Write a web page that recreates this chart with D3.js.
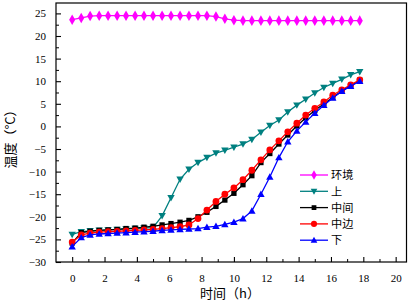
<!DOCTYPE html>
<html><head><meta charset="utf-8">
<script src="https://cdn.jsdelivr.net/npm/d3@7"></script>
<style>html,body{margin:0;padding:0;background:#fff;}svg{display:block;}</style>
</head><body>
<svg id="c" width="410" height="301"></svg>
<script>
const times = [0, 0.56, 1.11, 1.67, 2.22, 2.78, 3.33, 3.89, 4.44, 5.0, 5.56, 6.11, 6.67, 7.22, 7.78, 8.33, 8.89, 9.44, 10.0, 10.56, 11.11, 11.67, 12.22, 12.78, 13.33, 13.89, 14.44, 15.0, 15.56, 16.11, 16.67, 17.22, 17.78];
const huanjing = [23.6, 24.0, 24.4, 24.5, 24.5, 24.5, 24.5, 24.5, 24.5, 24.5, 24.5, 24.5, 24.5, 24.5, 24.5, 24.5, 24.3, 23.8, 23.5, 23.4, 23.4, 23.4, 23.4, 23.4, 23.4, 23.4, 23.4, 23.4, 23.4, 23.4, 23.4, 23.4, 23.4];
const shang = [-23.9, -23.3, -23.1, -23.0, -22.9, -22.8, -22.7, -22.6, -22.5, -22.4, -19.8, -15.8, -11.7, -9.5, -8.0, -6.9, -5.9, -5.3, -4.6, -3.9, -2.9, -1.3, 0.2, 1.4, 3.2, 4.7, 6.0, 7.4, 8.6, 9.5, 10.4, 11.4, 12.1];
const zhongjian = [-25.8, -23.5, -23.2, -23.0, -22.9, -22.8, -22.6, -22.5, -22.3, -22.1, -21.8, -21.5, -21.2, -20.8, -20.0, -19.0, -17.7, -16.3, -14.8, -12.9, -10.9, -8.0, -6.0, -3.9, -1.9, 0.1, 1.9, 3.5, 5.0, 6.4, 7.8, 9.0, 10.2];
const zhongbian = [-25.6, -24.0, -23.6, -23.4, -23.3, -23.2, -23.1, -23.0, -22.9, -22.8, -22.6, -22.4, -22.2, -21.8, -20.4, -18.5, -16.6, -15.0, -13.6, -11.8, -9.7, -7.4, -5.2, -3.2, -1.2, 0.7, 2.5, 4.0, 5.4, 6.9, 8.1, 9.2, 10.3];
const xia = [-26.6, -24.6, -24.0, -23.8, -23.7, -23.6, -23.5, -23.4, -23.3, -23.2, -23.0, -22.9, -22.8, -22.7, -22.6, -22.3, -22.1, -21.7, -21.2, -20.4, -18.7, -15.0, -11.2, -6.9, -3.4, -1.0, 1.0, 2.9, 4.7, 6.3, 7.8, 8.9, 10.0];
const seriesNames = ["环境", "上", "中间", "中边", "下"];
const xTicks = [0, 2, 4, 6, 8, 10, 12, 14, 16, 18, 20];
const yTicks = [-30, -25, -20, -15, -10, -5, 0, 5, 10, 15, 20, 25];

const colors = ["#ff00ff", "#008080", "#000000", "#ff0000", "#0000ff"];
const symbols = [d3.symbolDiamond, "tdown", d3.symbolSquare, d3.symbolCircle, "tup"];
const values = [huanjing, shang, zhongjian, zhongbian, xia];

const L = 56, R = 406.5, T = 3, B = 262;
const svg = d3.select("#c");
const x = d3.scaleLinear().domain([-1, 20.67]).range([L, R]);
const y = d3.scaleLinear().domain([-30, 27.3]).range([B, T]);

const serif = "'Liberation Serif','Times New Roman',serif";
const cjk = "'Noto Sans CJK SC','Noto Serif CJK SC',sans-serif";

function marker(g, kind, color, cx, cy, k) {
  k = k || 1;
  if (kind === "tdown" || kind === "tup") {
    const s = 3.7 * k, dir = kind === "tup" ? 1 : -1;
    const pts = [[cx, cy - dir * s], [cx - s, cy + dir * s * 0.75], [cx + s, cy + dir * s * 0.75]];
    g.append("path").attr("d", "M" + pts.map(p => p.join(",")).join("L") + "Z").attr("fill", color);
  } else {
    const size = (kind === d3.symbolDiamond ? 32 : kind === d3.symbolSquare ? 28 : 36) * k * k;
    g.append("path").attr("d", d3.symbol().type(kind).size(size)())
      .attr("transform", `translate(${cx},${cy})`).attr("fill", color);
  }
}

// series
values.forEach((vals, si) => {
  const g = svg.append("g");
  const data = times.map((t, i) => [t, vals[i]]);
  g.append("path").datum(data)
    .attr("d", d3.line().x(d => x(d[0])).y(d => y(d[1])))
    .attr("fill", "none").attr("stroke", colors[si]).attr("stroke-width", 1.3);
  data.forEach(d => marker(g, symbols[si], colors[si], x(d[0]), y(d[1])));
});

// frame
svg.append("rect").attr("x", L).attr("y", T).attr("width", R - L).attr("height", B - T)
  .attr("fill", "none").attr("stroke", "#000").attr("stroke-width", 1.2);

// x axis
const xa = svg.append("g").attr("transform", `translate(0,${B})`)
  .call(d3.axisBottom(x).tickValues(xTicks).tickSize(-5).tickPadding(12).tickFormat(d3.format("d")));
xa.select(".domain").remove();
xa.selectAll(".tick line").attr("stroke-width", 1.1);
xa.selectAll("text").attr("font-family", serif).attr("font-size", 11).attr("fill", "#000");
const xMinor = svg.append("g").attr("transform", `translate(0,${B})`)
  .call(d3.axisBottom(x).tickValues(d3.range(1, 21, 2)).tickSize(-3).tickFormat(""));
xMinor.select(".domain").remove();

// y axis
const ya = svg.append("g").attr("transform", `translate(${L},0)`)
  .call(d3.axisLeft(y).tickValues(yTicks).tickSize(-5).tickPadding(10).tickFormat(d3.format("d")));
ya.select(".domain").remove();
ya.selectAll(".tick line").attr("stroke-width", 1.1);
ya.selectAll("text").attr("font-family", serif).attr("font-size", 11).attr("fill", "#000");
const yMinor = svg.append("g").attr("transform", `translate(${L},0)`)
  .call(d3.axisLeft(y).tickValues(d3.range(-27.5, 26, 5)).tickSize(-3).tickFormat(""));
yMinor.select(".domain").remove();

// axis titles
svg.append("text").attr("x", 230).attr("y", 298).attr("text-anchor", "middle")
  .attr("font-family", cjk).attr("font-size", 13).text("时间（h）");
svg.append("text").attr("transform", "translate(15,136) rotate(-90)").attr("text-anchor", "middle")
  .attr("font-family", cjk).attr("font-size", 13).text("温度（°C）");

// legend
seriesNames.forEach((name, i) => {
  const cy = 175 + i * 16.3;
  const g = svg.append("g");
  g.append("line").attr("x1", 300).attr("x2", 328).attr("y1", cy).attr("y2", cy)
    .attr("stroke", colors[i]).attr("stroke-width", 1.3);
  marker(g, symbols[i], colors[i], 314, cy, 0.9);
  g.append("text").attr("x", 331).attr("y", cy + 4.2).attr("font-family", cjk)
    .attr("font-size", 11.2).attr("fill", "#000").text(name);
});
</script>
</body></html>
